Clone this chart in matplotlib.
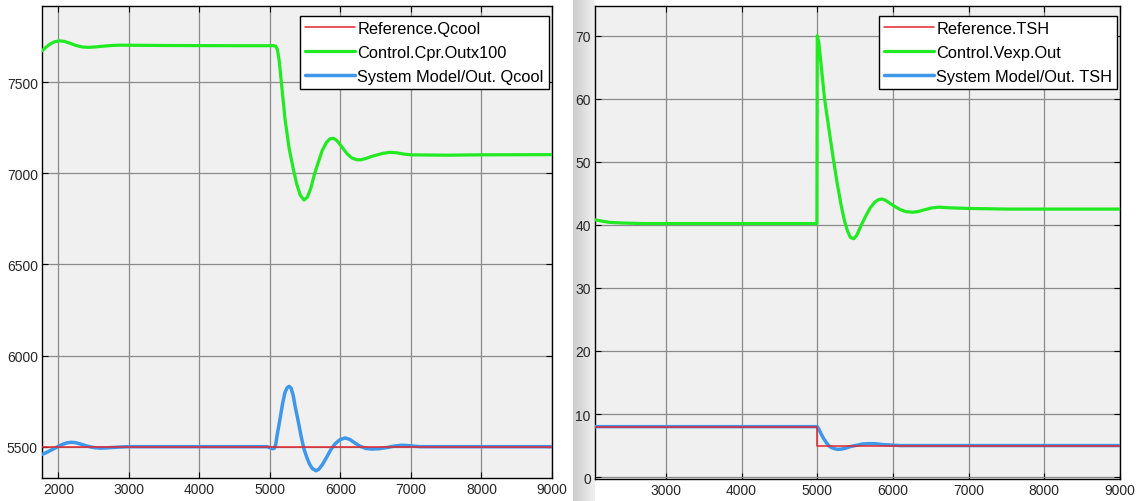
import numpy as np
import matplotlib
matplotlib.use("Agg")
import matplotlib.pyplot as plt

plt.rcParams["font.family"] = ["Liberation Sans", "DejaVu Sans"]

# --- left: cooling capacity loop -------------------------------------------
qcool_ref_t = [1766, 9000]
qcool_ref = [5500, 5500]

cpr_t = [1766, 1820, 1880, 1940, 2010, 2080, 2160, 2250, 2340, 2420, 2520,
         2620, 2750, 2870, 3200, 3600, 4500, 5050, 5080, 5105, 5130, 5166,
         5213, 5270, 5330, 5380, 5430, 5482, 5530, 5580, 5630, 5686, 5740,
         5800, 5850, 5898, 5950, 6000, 6050, 6100, 6160, 6230, 6291, 6360,
         6440, 6513, 6600, 6700, 6800, 6900, 7000, 7500, 8000, 9000]
cpr_out = [7673, 7692, 7710, 7722, 7728, 7725, 7715, 7702, 7694, 7692, 7694,
           7698, 7702, 7704, 7703, 7702, 7701, 7701, 7699, 7680, 7620, 7481,
           7298, 7140, 7024, 6940, 6880, 6854, 6870, 6920, 6995, 7063, 7125,
           7170, 7190, 7193, 7180, 7155, 7130, 7105, 7085, 7075, 7075, 7082,
           7093, 7101, 7110, 7116, 7113, 7106, 7102, 7100, 7102, 7103]

qcool_t = [1766, 1820, 1880, 1940, 2000, 2060, 2120, 2180, 2240, 2300, 2380,
           2450, 2520, 2590, 2670, 2750, 2870, 3000, 4000, 4960, 5000, 5040,
           5061, 5080, 5100, 5142, 5180, 5213, 5245, 5274, 5300, 5330, 5355,
           5400, 5440, 5480, 5521, 5560, 5600, 5652, 5690, 5740, 5804, 5860,
           5922, 5990, 6064, 6130, 6206, 6280, 6360, 6443, 6550, 6655, 6760,
           6868, 6960, 7060, 7128, 8000, 9000]
qcool_out = [5458, 5466, 5478, 5490, 5502, 5513, 5521, 5524, 5522, 5516, 5506,
             5499, 5494, 5492, 5493, 5495, 5498, 5500, 5500, 5500, 5494, 5489,
             5491, 5510, 5560, 5652, 5740, 5798, 5825, 5831, 5820, 5780, 5725,
             5640, 5560, 5490, 5442, 5405, 5380, 5368, 5375, 5400, 5442, 5482,
             5515, 5538, 5548, 5540, 5520, 5502, 5490, 5487, 5489, 5495, 5503,
             5508, 5506, 5502, 5500, 5500, 5500]

# --- right: superheat loop ----------------------------------------------------
tsh_ref_t = [2063, 5000, 9000]
tsh_ref = [8, 5, 5]

vexp_t = [2063, 2150, 2250, 2400, 2700, 3500, 4500, 4995, 5000, 5020, 5096,
          5150, 5205, 5260, 5315, 5360, 5400, 5438, 5480, 5520, 5579, 5640,
          5700, 5760, 5810, 5856, 5900, 5950, 6000, 6040, 6100, 6170, 6259,
          6330, 6420, 6520, 6610, 6750, 7000, 7500, 9000]
vexp_out = [40.8, 40.6, 40.4, 40.3, 40.2, 40.2, 40.2, 40.2, 70.0, 69.0, 60.0,
            55.5, 51.0, 46.8, 43.1, 40.6, 39.0, 38.0, 37.8, 38.3, 39.9, 41.4,
            42.7, 43.6, 44.0, 44.1, 43.9, 43.5, 43.1, 42.8, 42.4, 42.1, 42.0,
            42.1, 42.4, 42.7, 42.8, 42.7, 42.6, 42.5, 42.5]

tsh_t = [2063, 4995, 5000, 5025, 5053, 5085, 5118, 5150, 5184, 5230, 5272,
         5320, 5380, 5425, 5480, 5540, 5600, 5680, 5751, 5800, 5870, 5949,
         6030, 6100, 9000]
tsh_out = [8.0, 8.0, 8.0, 7.5, 6.8, 6.1, 5.5, 5.0, 4.7, 4.5, 4.4, 4.45, 4.6,
           4.8, 4.95, 5.1, 5.25, 5.3, 5.3, 5.25, 5.15, 5.1, 5.05, 5.0, 5.0]

RED = "#e3262d"
GREEN = "#22ea22"
BLUE = "#3f97ea"
W, H = 1138, 502


def style_axes(ax):
    ax.set_facecolor("#f0f0f0")
    ax.grid(True, color="#8a8a8a", linewidth=0.9)
    ax.set_axisbelow(True)
    for s in ax.spines.values():
        s.set_color("black")
        s.set_linewidth(1.0)
    ax.tick_params(direction="in", length=4, width=0.8, top=True, right=True,
                   labelsize=10, labelcolor="#262626", pad=3)


def draw(ax, t, y, color, lw, label, z, **kw):
    ax.plot(t, y, color=color, lw=lw, label=label, zorder=z,
            solid_joinstyle="round", solid_capstyle="round", **kw)


fig = plt.figure(figsize=(W / 100, H / 100), dpi=100)

# window edge shading beside the right plot
shade = fig.add_axes([573 / W, 0, 22 / W, 1])
grad = np.linspace(0.8, 0.94, 64)[None, :]
shade.imshow(grad, aspect="auto", cmap="gray", vmin=0, vmax=1, extent=[0, 1, 0, 1])
shade.axis("off")

ax1 = fig.add_axes([42 / W, 1 - 479 / H, 510 / W, 472 / H])
style_axes(ax1)
draw(ax1, cpr_t, cpr_out, GREEN, 2.3, "Control.Cpr.Outx100", 3)
draw(ax1, qcool_t, qcool_out, BLUE, 2.5, "System Model/Out. Qcool", 3)
draw(ax1, qcool_ref_t, qcool_ref, RED, 1.1, "Reference.Qcool", 4)
ax1.set_xlim(1766, 9000)
ax1.set_ylim(5328, 7919)
ax1.set_xticks(np.arange(2000, 9001, 1000))
ax1.set_yticks(np.arange(5500, 7501, 500))

ax2 = fig.add_axes([595 / W, 1 - 480 / H, 525 / W, 473 / H])
style_axes(ax2)
draw(ax2, vexp_t, vexp_out, GREEN, 2.3, "Control.Vexp.Out", 3)
draw(ax2, tsh_t, tsh_out, BLUE, 2.5, "System Model/Out. TSH", 3)
draw(ax2, tsh_ref_t, tsh_ref, RED, 1.1, "Reference.TSH", 4, drawstyle="steps-post")
ax2.set_xlim(2063, 9000)
ax2.set_ylim(-0.3, 74.7)
ax2.set_xticks(np.arange(3000, 9001, 1000))
ax2.set_yticks(np.arange(0, 71, 10))

for ax, anchor in ((ax1, (0.994, 0.979)), (ax2, (0.995, 0.979))):
    h, l = ax.get_legend_handles_labels()
    order = [2, 0, 1]
    leg = ax.legend([h[i] for i in order], [l[i] for i in order],
                    loc="upper right", bbox_to_anchor=anchor, borderaxespad=0,
                    fontsize=11.75, handlelength=3.05, handletextpad=0.15,
                    labelspacing=0.55, borderpad=0.32, fancybox=False,
                    framealpha=1, edgecolor="black")
    leg.get_frame().set_linewidth(1.0)

fig.savefig("out.png", dpi=100)
